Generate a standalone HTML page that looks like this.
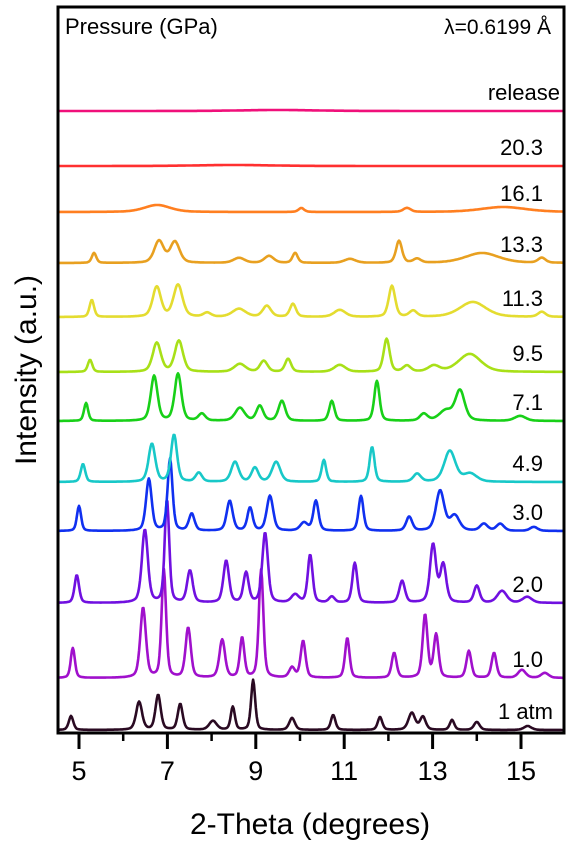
<!DOCTYPE html>
<html><head><meta charset="utf-8">
<style>
html,body{margin:0;padding:0;background:#fff;}
svg{display:block;}
text{font-family:"Liberation Sans",Arial,sans-serif;fill:#000;}
</style></head>
<body>
<svg id="chart" width="573" height="842" viewBox="0 0 573 842">
  <g id="series"></g>
  <g id="labels"></g>
  <rect x="58" y="7" width="506" height="726" fill="none" stroke="#000" stroke-width="3"/>
  <g id="xticks"></g>
  <text x="65" y="34" font-size="22">Pressure (GPa)</text>
  <text x="551" y="34" font-size="21" text-anchor="end">λ=0.6199 Å</text>
  <text x="310" y="834" font-size="30" text-anchor="middle">2-Theta (degrees)</text>
  <text transform="translate(36,370) rotate(-90)" font-size="30" text-anchor="middle">Intensity (a.u.)</text>
</svg>
<script>
const xTicks = [5, 7, 9, 11, 13, 15];
const xMinor = [6, 8, 10, 12, 14];
const seriesNames = ["1 atm","1.0","2.0","3.0","4.9","7.1","9.5","11.3","13.3","16.1","20.3","release"];
// peaks: [2theta, intensity, fwhm]
const peaks_1atm = [[4.82,14,.12],[6.36,28,.16],[6.79,35,.14],[7.29,26,.13],[8.03,9,.2],[8.48,23,.11],[8.94,50,.11],[9.82,12,.15],[10.75,15,.12],[11.81,13,.12],[12.53,17,.18],[12.78,13,.15],[13.44,10,.12],[14.0,8,.15],[15.15,4,.2]];
const peaks_1_0 = [[4.86,30,.11],[6.45,70,.15],[6.92,108,.12],[7.47,50,.14],[8.24,38,.15],[8.69,40,.12],[9.12,108,.12],[9.82,10,.15],[10.07,37,.13],[11.07,40,.12],[12.13,25,.13],[12.83,63,.13],[13.08,43,.13],[13.82,27,.13],[14.39,25,.13],[15.02,8,.2],[15.54,5,.2]];
const peaks_2_0 = [[4.95,28,.12],[6.49,73,.16],[6.99,103,.12],[7.51,32,.15],[8.33,42,.15],[8.78,30,.14],[9.21,70,.15],[9.89,8,.2],[10.23,48,.13],[10.72,6,.15],[11.24,40,.13],[12.31,22,.15],[13.01,58,.16],[13.24,38,.16],[14.0,17,.15],[14.57,12,.25],[15.14,6,.25]];
const peaks_3_0 = [[5.0,25,.11],[6.58,52,.15],[7.06,72,.13],[7.55,17,.15],[8.41,30,.16],[8.87,23,.14],[9.32,35,.17],[10.09,8,.2],[10.36,30,.14],[11.38,35,.13],[12.47,14,.16],[13.17,40,.22],[13.5,15,.25],[14.16,7,.2],[14.53,7,.2],[15.29,4,.2]];
const peaks_4_9 = [[5.09,18,.12],[6.65,38,.18],[7.15,47,.16],[7.71,9,.17],[8.53,20,.2],[8.98,14,.18],[9.46,20,.22],[10.54,22,.12],[11.63,35,.13],[12.65,8,.2],[13.39,31,.3],[13.85,8,.35]];
const peaks_7_1 = [[5.16,18,.11],[6.7,45,.18],[7.24,47,.18],[7.78,7,.18],[8.64,13,.25],[9.09,15,.18],[9.59,20,.18],[10.72,20,.14],[11.74,40,.14],[12.8,7,.2],[13.3,10,.35],[13.62,30,.25],[14.98,5,.3]];
const peaks_9_5 = [[5.25,12,.12],[6.76,29,.22],[7.26,31,.22],[8.64,8,.3],[9.18,11,.2],[9.73,13,.16],[10.9,7,.3],[11.96,33,.16],[12.42,6,.2],[13.03,6,.3],[13.84,18,.6]];
const peaks_11_3 = [[5.29,17,.12],[6.76,30,.22],[7.24,32,.24],[7.9,4,.2],[8.62,8,.35],[9.25,11,.22],[9.84,13,.16],[10.9,7,.3],[12.08,31,.17],[12.56,6,.2],[13.91,15,.7],[15.47,5,.2]];
const peaks_13_3 = [[5.34,10,.12],[6.81,22,.25],[7.17,21,.25],[8.62,5,.3],[9.3,7,.25],[9.89,10,.14],[11.13,4,.3],[12.24,22,.16],[12.65,4,.2],[14.12,10,.9],[15.47,5,.2]];
const peaks_16_1 = [[6.77,7,.7],[10.03,4,.15],[12.42,4,.2],[14.6,5,1.2]];
const peaks_20_3 = [[8.5,1,2]];
const peaks_release = [[9.5,1,2]];

const allPeaks = [peaks_1atm,peaks_1_0,peaks_2_0,peaks_3_0,peaks_4_9,peaks_7_1,peaks_9_5,peaks_11_3,peaks_13_3,peaks_16_1,peaks_20_3,peaks_release];
const baselines = [730,678,603,531,482,421,372,317,263,212,166,111];
const colors = ["#2a0a22","#a010cc","#7010e0","#1030f0","#18c8c8","#18d018","#a8e018","#e4dc30","#e8a020","#ff7f20","#ff3030","#f0107a"];
const labelX = [553,543,543,543,543,543,543,543,543,543,543,560];

const X0 = 4.5, X1 = 16;
function xs(v){ return 79 + (v - 5) * 44.2; }
const NS = "http://www.w3.org/2000/svg";
const gS = document.getElementById('series');
const gL = document.getElementById('labels');
const gT = document.getElementById('xticks');

function profile(x, p){
  const w = p[2], d = x - p[0];
  const g = Math.exp(-4*Math.LN2*d*d/(w*w));
  const l = 1/(1 + 4*d*d/(w*w));
  return p[1]*(0.6*g + 0.4*l);
}

allPeaks.forEach((pk, i) => {
  let d = "";
  for (let x = X0 + 0.02; x <= X1 - 0.02; x += 0.02) {
    let y = 0;
    pk.forEach(p => { y += profile(x, p); });
    d += (d ? "L" : "M") + xs(x).toFixed(1) + " " + (baselines[i] - y).toFixed(1);
  }
  const path = document.createElementNS(NS, 'path');
  path.setAttribute('d', d);
  path.setAttribute('fill', 'none');
  path.setAttribute('stroke', colors[i]);
  path.setAttribute('stroke-width', '2.6');
  path.setAttribute('stroke-linejoin', 'round');
  
  
  gS.appendChild(path);

  const t = document.createElementNS(NS, 'text');
  t.setAttribute('x', labelX[i]);
  t.setAttribute('y', baselines[i] - 11);
  t.setAttribute('font-size', '22');
  t.setAttribute('text-anchor', 'end');
  t.textContent = seriesNames[i];
  
  
  gL.appendChild(t);
});

xTicks.forEach(v => {
  const l = document.createElementNS(NS, 'line');
  l.setAttribute('x1', xs(v)); l.setAttribute('x2', xs(v));
  l.setAttribute('y1', 733); l.setAttribute('y2', 749);
  l.setAttribute('stroke', '#000'); l.setAttribute('stroke-width', '3');
  
  
  gT.appendChild(l);
  const t = document.createElementNS(NS, 'text');
  t.setAttribute('x', xs(v)); t.setAttribute('y', 780);
  t.setAttribute('font-size', '27'); t.setAttribute('text-anchor', 'middle');
  t.textContent = v;
  
  
  gT.appendChild(t);
});
xMinor.forEach(v => {
  const l = document.createElementNS(NS, 'line');
  l.setAttribute('x1', xs(v)); l.setAttribute('x2', xs(v));
  l.setAttribute('y1', 733); l.setAttribute('y2', 741);
  l.setAttribute('stroke', '#000'); l.setAttribute('stroke-width', '2.5');
  
  
  gT.appendChild(l);
});
</script>
</body></html>
